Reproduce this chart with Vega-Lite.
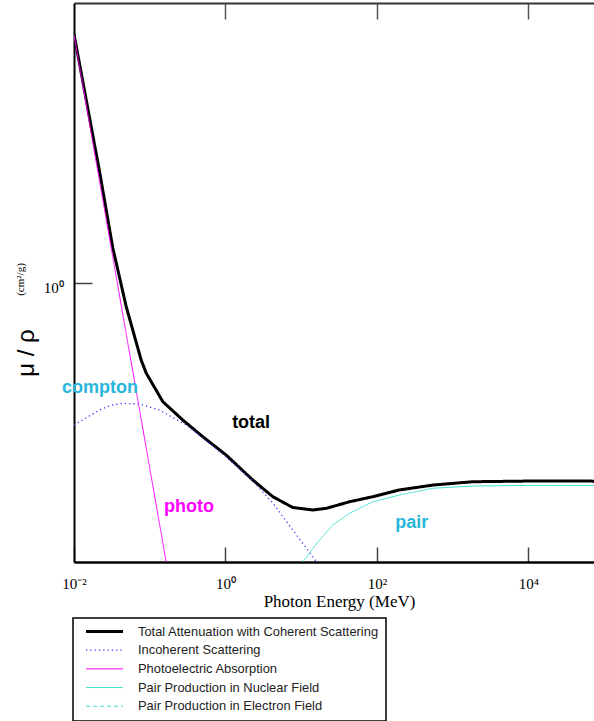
{
  "$schema": "https://vega.github.io/schema/vega-lite/v6.json",
  "width": 520,
  "height": 559,
  "autosize": {"type": "none"},
  "padding": {"left": 74, "top": 3, "right": 0, "bottom": 159},
  "background": "white",
  "config": {"view": {"stroke": null}, "axis": {"grid": false}},
  "datasets": {
    "curves": [
      {"series": "Total Attenuation with Coherent Scattering", "E": 0.01, "mu": 52.1},
      {"series": "Total Attenuation with Coherent Scattering", "E": 0.0217, "mu": 5.9},
      {"series": "Total Attenuation with Coherent Scattering", "E": 0.0325, "mu": 1.75},
      {"series": "Total Attenuation with Coherent Scattering", "E": 0.0489, "mu": 0.687},
      {"series": "Total Attenuation with Coherent Scattering", "E": 0.0771, "mu": 0.294},
      {"series": "Total Attenuation with Coherent Scattering", "E": 0.0897, "mu": 0.2395},
      {"series": "Total Attenuation with Coherent Scattering", "E": 0.1486, "mu": 0.152},
      {"series": "Total Attenuation with Coherent Scattering", "E": 0.273, "mu": 0.1135},
      {"series": "Total Attenuation with Coherent Scattering", "E": 0.501, "mu": 0.0871},
      {"series": "Total Attenuation with Coherent Scattering", "E": 1.02, "mu": 0.0651},
      {"series": "Total Attenuation with Coherent Scattering", "E": 2.29, "mu": 0.0438},
      {"series": "Total Attenuation with Coherent Scattering", "E": 4.21, "mu": 0.0336},
      {"series": "Total Attenuation with Coherent Scattering", "E": 7.73, "mu": 0.0283},
      {"series": "Total Attenuation with Coherent Scattering", "E": 14.2, "mu": 0.0272},
      {"series": "Total Attenuation with Coherent Scattering", "E": 21.3, "mu": 0.0279},
      {"series": "Total Attenuation with Coherent Scattering", "E": 43.4, "mu": 0.031},
      {"series": "Total Attenuation with Coherent Scattering", "E": 88.1, "mu": 0.0336},
      {"series": "Total Attenuation with Coherent Scattering", "E": 198, "mu": 0.0374},
      {"series": "Total Attenuation with Coherent Scattering", "E": 546, "mu": 0.0404},
      {"series": "Total Attenuation with Coherent Scattering", "E": 1841, "mu": 0.0426},
      {"series": "Total Attenuation with Coherent Scattering", "E": 11400, "mu": 0.0431},
      {"series": "Total Attenuation with Coherent Scattering", "E": 100000, "mu": 0.043},
      {"series": "Incoherent Scattering", "E": 0.01, "mu": 0.1049},
      {"series": "Incoherent Scattering", "E": 0.0217, "mu": 0.1331},
      {"series": "Incoherent Scattering", "E": 0.0303, "mu": 0.143},
      {"series": "Incoherent Scattering", "E": 0.0441, "mu": 0.148},
      {"series": "Incoherent Scattering", "E": 0.0732, "mu": 0.1464},
      {"series": "Incoherent Scattering", "E": 0.1345, "mu": 0.1331},
      {"series": "Incoherent Scattering", "E": 0.303, "mu": 0.1049},
      {"series": "Incoherent Scattering", "E": 0.501, "mu": 0.0853},
      {"series": "Incoherent Scattering", "E": 1.02, "mu": 0.0631},
      {"series": "Incoherent Scattering", "E": 2.29, "mu": 0.0431},
      {"series": "Incoherent Scattering", "E": 4.21, "mu": 0.0304},
      {"series": "Incoherent Scattering", "E": 7.73, "mu": 0.0198},
      {"series": "Incoherent Scattering", "E": 12.2, "mu": 0.0144},
      {"series": "Incoherent Scattering", "E": 17.4, "mu": 0.01117},
      {"series": "Incoherent Scattering", "E": 30, "mu": 0.0077},
      {"series": "Photoelectric Absorption", "E": 0.01, "mu": 51.3},
      {"series": "Photoelectric Absorption", "E": 0.02, "mu": 6.47},
      {"series": "Photoelectric Absorption", "E": 0.05, "mu": 0.417},
      {"series": "Photoelectric Absorption", "E": 0.1, "mu": 0.0529},
      {"series": "Photoelectric Absorption", "E": 0.2, "mu": 0.00667},
      {"series": "Pair Production in Nuclear Field", "E": 2, "mu": 0.0008},
      {"series": "Pair Production in Nuclear Field", "E": 5, "mu": 0.005},
      {"series": "Pair Production in Nuclear Field", "E": 10.48, "mu": 0.01197},
      {"series": "Pair Production in Nuclear Field", "E": 17.4, "mu": 0.0169},
      {"series": "Pair Production in Nuclear Field", "E": 26.1, "mu": 0.0214},
      {"series": "Pair Production in Nuclear Field", "E": 43.4, "mu": 0.0258},
      {"series": "Pair Production in Nuclear Field", "E": 88.1, "mu": 0.031},
      {"series": "Pair Production in Nuclear Field", "E": 198, "mu": 0.0345},
      {"series": "Pair Production in Nuclear Field", "E": 546, "mu": 0.0384},
      {"series": "Pair Production in Nuclear Field", "E": 1841, "mu": 0.0398},
      {"series": "Pair Production in Nuclear Field", "E": 11400, "mu": 0.0402},
      {"series": "Pair Production in Nuclear Field", "E": 100000, "mu": 0.0401},
      {"series": "Pair Production in Electron Field", "E": 5, "mu": 0.00003},
      {"series": "Pair Production in Electron Field", "E": 10, "mu": 0.0002},
      {"series": "Pair Production in Electron Field", "E": 20, "mu": 0.0006},
      {"series": "Pair Production in Electron Field", "E": 50, "mu": 0.0013},
      {"series": "Pair Production in Electron Field", "E": 100, "mu": 0.0018},
      {"series": "Pair Production in Electron Field", "E": 1000, "mu": 0.0027},
      {"series": "Pair Production in Electron Field", "E": 10000, "mu": 0.003},
      {"series": "Pair Production in Electron Field", "E": 100000, "mu": 0.0031}
    ],
    "labels": [
      {"label": "compton", "E": 0.02198, "mu": 0.1743},
      {"label": "total", "E": 2.18, "mu": 0.1005},
      {"label": "photo", "E": 0.33, "mu": 0.0265},
      {"label": "pair", "E": 287, "mu": 0.02034}
    ]
  },
  "layer": [
    {
      "data": {"name": "curves"},
      "mark": {"type": "line", "clip": true},
      "encoding": {
        "x": {
          "field": "E", "type": "quantitative",
          "scale": {"type": "log", "domain": [0.01, 73300], "nice": false},
          "axis": {
            "orient": "bottom", "values": [0.01, 1, 100, 10000],
            "labelExpr": "datum.value < 0.1 ? '10⁻²' : datum.value < 10 ? '10⁰' : datum.value < 1000 ? '10²' : '10⁴'",
            "tickSize": -15, "tickWidth": 1.5, "tickColor": "#444",
            "domainColor": "black", "domainWidth": 2.5,
            "labelFont": "Liberation Serif", "labelFontSize": 15, "labelColor": "black",
            "labelBaseline": "alphabetic", "labelPadding": 41, "labelFlush": false, "labelOverlap": false,
            "title": "Photon Energy (MeV)", "titleFont": "Liberation Serif", "titleFontSize": 17,
            "titleFontWeight": "normal", "titleColor": "black", "titleBaseline": "alphabetic",
            "titleAlign": "center", "titleX": 265, "titleY": 44.7, "grid": false
          }
        },
        "y": {
          "field": "mu", "type": "quantitative",
          "scale": {"type": "log", "domain": [0.01191, 85.3], "nice": false},
          "axis": {
            "orient": "left", "values": [1], "labelExpr": "'10⁰'",
            "tickSize": -18, "tickWidth": 1.5, "tickColor": "#444",
            "domainColor": "black", "domainWidth": 2,
            "labelFont": "Liberation Serif", "labelFontSize": 15, "labelColor": "black",
            "labelBaseline": "alphabetic", "labelOffset": 10, "labelPadding": 28.7,
            "title": "μ / ρ", "titleFont": "Liberation Sans", "titleFontSize": 24,
            "titleFontWeight": "normal", "titleColor": "black", "titleAngle": -90,
            "titleBaseline": "alphabetic", "titleAlign": "center", "titleX": -41, "titleY": 349.5,
            "grid": false
          }
        },
        "color": {
          "field": "series", "type": "nominal",
          "scale": {
            "domain": ["Total Attenuation with Coherent Scattering", "Incoherent Scattering", "Photoelectric Absorption", "Pair Production in Nuclear Field", "Pair Production in Electron Field"],
            "range": ["#000000", "#4040ff", "#ff00ff", "#40e0d0", "#40e0d0"]
          },
          "legend": {
            "title": null, "orient": "none", "legendX": -1, "legendY": 615,
            "strokeColor": "black", "padding": 7, "symbolType": "M-3.7,0H3.7", "symbolSize": 100,
            "symbolOffset": 18, "labelOffset": 27, "labelFont": "Liberation Sans", "labelFontSize": 12.9,
            "labelColor": "#222", "rowPadding": 4.7, "labelLimit": 400,
            "encode": {"legend": {"update": {"strokeWidth": {"value": 1.5}}}}
          }
        },
        "strokeDash": {
          "field": "series", "type": "nominal",
          "scale": {
            "domain": ["Total Attenuation with Coherent Scattering", "Incoherent Scattering", "Photoelectric Absorption", "Pair Production in Nuclear Field", "Pair Production in Electron Field"],
            "range": [[1, 0], [1.3, 3], [1, 0], [1, 0], [4, 3]]
          },
          "legend": {
            "title": null, "orient": "none", "legendX": -1, "legendY": 615,
            "strokeColor": "black", "padding": 7, "symbolType": "M-3.7,0H3.7", "symbolSize": 100,
            "symbolOffset": 18, "labelOffset": 27, "labelFont": "Liberation Sans", "labelFontSize": 12.9,
            "labelColor": "#222", "rowPadding": 4.7, "labelLimit": 400,
            "encode": {"legend": {"update": {"strokeWidth": {"value": 1.5}}}}
          }
        },
        "strokeWidth": {
          "field": "series", "type": "nominal",
          "scale": {
            "type": "ordinal",
            "domain": ["Total Attenuation with Coherent Scattering", "Incoherent Scattering", "Photoelectric Absorption", "Pair Production in Nuclear Field", "Pair Production in Electron Field"],
            "range": [3, 1.3, 1, 1, 1]
          },
          "legend": {
            "title": null, "orient": "none", "legendX": -1, "legendY": 615,
            "strokeColor": "black", "padding": 7, "symbolType": "M-3.7,0H3.7", "symbolSize": 100,
            "symbolOffset": 18, "labelOffset": 27, "labelFont": "Liberation Sans", "labelFontSize": 12.9,
            "labelColor": "#222", "rowPadding": 4.7, "labelLimit": 400,
            "encode": {"legend": {"update": {"strokeWidth": {"value": 1.5}}}}
          }
        }
      }
    },
    {
      "data": {"name": "labels"},
      "encoding": {
        "x": {
          "field": "E", "type": "quantitative",
          "scale": {"type": "log", "domain": [0.01, 73300], "nice": false},
          "axis": {
            "orient": "top", "values": [1, 100, 10000], "tickSize": -16, "tickWidth": 1.5,
            "tickColor": "#555", "labels": false, "domainColor": "#333", "domainWidth": 2,
            "title": null, "grid": false
          }
        },
        "y": {
          "field": "mu", "type": "quantitative",
          "scale": {"type": "log", "domain": [0.01191, 85.3], "nice": false},
          "axis": {
            "orient": "right", "domain": false, "ticks": false, "labels": false, "grid": false,
            "title": "(cm²/g)", "titleFont": "Liberation Serif", "titleFontSize": 11,
            "titleFontWeight": "normal", "titleColor": "black", "titleAngle": -90,
            "titleBaseline": "alphabetic", "titleAlign": "center", "titleX": -571, "titleY": 276
          }
        },
        "text": {"field": "label", "type": "nominal"}
      },
      "layer": [
        {
          "transform": [{"filter": "datum.label === 'compton' || datum.label === 'pair'"}],
          "mark": {"type": "text", "font": "Liberation Sans", "fontSize": 18, "fontWeight": "bold", "color": "#29b6db", "align": "center", "baseline": "alphabetic"}
        },
        {
          "transform": [{"filter": "datum.label === 'photo'"}],
          "mark": {"type": "text", "font": "Liberation Sans", "fontSize": 18, "fontWeight": "bold", "color": "#ff00ff", "align": "center", "baseline": "alphabetic"}
        },
        {
          "transform": [{"filter": "datum.label === 'total'"}],
          "mark": {"type": "text", "font": "Liberation Sans", "fontSize": 18, "fontWeight": "bold", "color": "#000000", "align": "center", "baseline": "alphabetic"}
        }
      ]
    }
  ],
  "resolve": {"axis": {"x": "independent", "y": "independent"}}
}
